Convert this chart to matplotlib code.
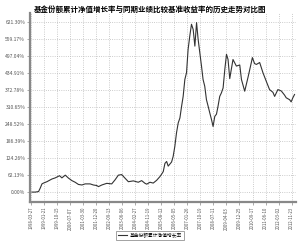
import matplotlib
matplotlib.use("Agg")
from matplotlib import pyplot as plt

plt.rcParams['font.family'] = ['Noto Sans CJK SC', 'DejaVu Sans']

TITLE = "基金份额累计净值增长率与同期业绩比较基准收益率的历史走势对比图"
SERIES_NAME = "基金份额累计净值增长率"

# x tick labels (category axis, evenly spaced)
DATE_LABELS = [
    "1998-03-27", "1999-01-21", "1999-10-15", "2000-07-07", "2001-03-30",
    "2001-12-20", "2002-09-13", "2003-06-06", "2004-02-27", "2004-11-19",
    "2005-08-12", "2006-05-05", "2007-01-26", "2007-10-19", "2008-07-11",
    "2009-04-03", "2009-12-25", "2010-09-17", "2011-06-10", "2012-03-02",
    "2012-11-23",
]

# y ticks: 0 .. 621.30 step 62.13
Y_TICKS = [0.00, 62.13, 124.26, 186.39, 248.52, 310.65,
           372.78, 434.91, 497.04, 559.17, 621.30]

# position along the date axis (in label units) and cumulative growth (%)
pos = [0.05, 0.31, 0.56, 0.69, 0.82, 0.94, 1.20, 1.59, 1.84, 2.17,
       2.35, 2.61, 2.86, 3.12, 3.37, 3.62, 3.89, 4.14, 4.52, 4.77,
       5.03, 5.16, 5.42, 5.80, 6.18, 6.44, 6.69, 6.95, 7.20, 7.46,
       7.84, 8.22, 8.48, 8.74, 8.87, 9.12, 9.37, 9.63, 9.89, 10.02,
       10.14, 10.27, 10.40, 10.52, 10.78, 10.90, 11.03, 11.16, 11.29, 11.42,
       11.55, 11.67, 11.80, 11.93, 12.05, 12.18, 12.31, 12.44, 12.57, 12.70,
       12.82, 12.95, 13.08, 13.20, 13.33, 13.46, 13.59, 13.72, 13.85, 13.97,
       14.10, 14.23, 14.35, 14.48, 14.61, 14.74, 14.87, 15.00, 15.12, 15.25,
       15.50, 15.76, 16.02, 16.15, 16.40, 16.65, 16.91, 16.99, 17.16, 17.30,
       17.55, 17.80, 18.06, 18.31, 18.57, 18.70, 18.95, 19.21, 19.46, 19.59,
       19.85, 19.97, 20.10, 20.23]
growth = [0, 0, 2, 15, 30, 33, 38, 48, 52, 60,
          52, 62, 51, 42, 36, 28, 26, 30, 30, 26,
          24, 20, 26, 32, 30, 45, 62, 64, 51, 38,
          41, 36, 42, 32, 29, 36, 33, 43, 57, 66,
          75, 105, 112, 95, 110, 130, 167, 217, 253, 271,
          314, 350, 412, 437, 522, 571, 614, 595, 534, 620,
          559, 510, 461, 412, 387, 338, 314, 289, 265, 240,
          277, 285, 314, 350, 363, 381, 448, 504, 485, 415,
          485, 461, 465, 412, 369, 419, 474, 492, 470, 467,
          474, 437, 405, 375, 365, 350, 375, 370, 355, 345,
          338, 330, 345, 357]


def main():
    fig = plt.figure(figsize=(3.0, 2.42), dpi=100)
    ax = fig.add_axes([0.10, 0.165, 0.887, 0.78])

    ax.plot(pos, growth, color="#333333", linewidth=0.8, label=SERIES_NAME)

    ax.set_xlim(-0.1, 20.35)
    ax.set_ylim(-36.5, 654)
    ax.set_xticks(range(len(DATE_LABELS)))
    ax.set_xticklabels(DATE_LABELS, rotation=90, fontsize=3.1, color="#555555")
    ax.set_yticks(Y_TICKS)
    ax.set_yticklabels([f"{v:.2f}%" for v in Y_TICKS], fontsize=3.6, color="#555555")
    ax.tick_params(length=2, width=0.5, color="#888888", pad=1.5)

    ax.grid(True, color="#bbbbbb", linestyle=":", linewidth=0.6)
    for side in ("top", "right"):
        ax.spines[side].set_visible(False)
    for side in ("left", "bottom"):
        ax.spines[side].set_color("#888888")
        ax.spines[side].set_linewidth(1.6)

    fig.text(0.5, 0.962, TITLE, ha="center", va="center", fontsize=5.4,
             fontweight="bold")

    leg = fig.legend(loc="lower center", bbox_to_anchor=(0.5, 0.0), fontsize=3.4,
                     frameon=True, fancybox=False, handlelength=2.0,
                     borderpad=0.35, handletextpad=0.5)
    leg.get_frame().set_edgecolor("#777777")
    leg.get_frame().set_linewidth(0.6)

    fig.savefig("out.png", dpi=100)


if __name__ == '__main__':
    main()
